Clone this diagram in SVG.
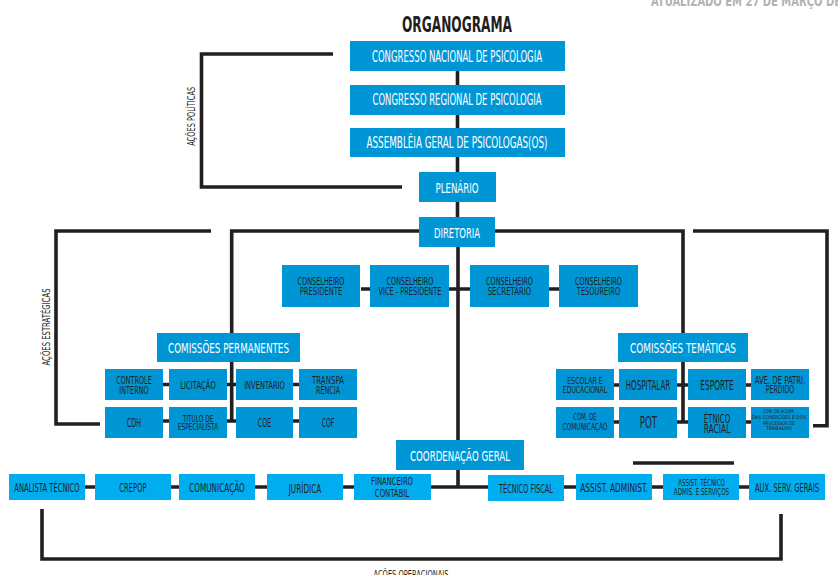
<svg xmlns="http://www.w3.org/2000/svg" width="838" height="575" viewBox="0 0 838 575">
<style>
text{font-family:"DejaVu Sans Condensed","Liberation Sans",sans-serif;text-anchor:middle}
.b{fill:#0096d6}
.bl{fill:#00adef}
.w{fill:#ffffff}
.d{fill:#231f20}
.ln{stroke:#231f20;stroke-width:3.6;fill:none}
.lbl{fill:#231f20;font-size:10.5px}
.tiny{font-size:5.2px}
</style>
<rect width="838" height="575" fill="#ffffff"/>
<text x="651" y="6" style="text-anchor:start;fill:#b3b3b3;font-weight:bold;font-size:14px" textLength="190" lengthAdjust="spacingAndGlyphs">ATUALIZADO EM 27 DE MARÇO DE</text>
<text x="457" y="32" class="d" style="font-weight:bold;font-size:22px" textLength="110" lengthAdjust="spacingAndGlyphs">ORGANOGRAMA</text>

<g id="connectors">
<path class="ln" d="M457.5 56 V231 M458 247 V441 M458 470 V487"/>
<path class="ln" d="M333 54 H201.5 V187 H402"/>
<path class="ln" d="M419 231 H231.7 V422 M495 231 H683 V422"/>
<path class="ln" d="M211 231 H56 V424 H100"/>
<path class="ln" d="M693 231 H827 V425.7 H813"/>
<path class="ln" d="M361 289 H370 M449 289 H470 M549 289 H559"/>
<path class="ln" d="M163 384.5 H169 M227 384.5 H236 M293 384.5 H299 M163 421 H169 M227 421 H236 M293 421 H299"/>
<path class="ln" d="M614 385 H619 M677 385 H688 M746 385 H751 M614 422 H619 M677 422 H688 M746 422 H751"/>
<path class="ln" d="M85 487 H95 M171 487 H179 M255 487 H267 M343 487 H354 M431 487 H488 M564 487 H576 M652 487 H663 M739 487 H749"/>
<path class="ln" d="M633 463 H734"/>
<path class="ln" d="M42 509 V559 H781 V514"/>
</g>

<text class="lbl" transform="translate(195,116.3) rotate(-90)" textLength="59" lengthAdjust="spacingAndGlyphs">AÇÕES POLÍTICAS</text>
<text class="lbl" transform="translate(50,327) rotate(-90)" textLength="77" lengthAdjust="spacingAndGlyphs">AÇÕES ESTRATÉGICAS</text>
<text class="lbl" x="411" y="578" style="font-size:11px" textLength="75" lengthAdjust="spacingAndGlyphs">AÇÕES OPERACIONAIS</text>

<g id="cnp"><rect class="b" x="350" y="41" width="215" height="30"/><text class="w" x="457" y="62" style="font-size:15.5px" textLength="170" lengthAdjust="spacingAndGlyphs">CONGRESSO NACIONAL DE PSICOLOGIA</text></g>
<g id="crp"><rect class="b" x="350" y="85" width="215" height="30"/><text class="w" x="457" y="104.5" style="font-size:15.5px" textLength="169" lengthAdjust="spacingAndGlyphs">CONGRESSO REGIONAL DE PSICOLOGIA</text></g>
<g id="assembleia"><rect class="b" x="350" y="128" width="215" height="29"/><text class="w" x="457" y="148" style="font-size:15.5px" textLength="181" lengthAdjust="spacingAndGlyphs">ASSEMBLÉIA GERAL DE PSICOLOGAS(OS)</text></g>
<g id="plenario"><rect class="b" x="419" y="172" width="77" height="30"/><text class="w" x="457" y="192.5" style="font-size:14.5px" textLength="43" lengthAdjust="spacingAndGlyphs">PLENÁRIO</text></g>
<g id="diretoria"><rect class="b" x="419" y="217" width="76" height="30"/><text class="w" x="457" y="237.7" style="font-size:14.5px" textLength="46" lengthAdjust="spacingAndGlyphs">DIRETORIA</text></g>

<g id="cons-presidente"><rect class="b" x="282" y="265" width="78" height="42"/><text class="d" x="321" y="285" style="font-size:10px" textLength="47" lengthAdjust="spacingAndGlyphs">CONSELHEIRO</text><text class="d" x="321" y="295.3" style="font-size:10px" textLength="42.7" lengthAdjust="spacingAndGlyphs">PRESIDENTE</text></g>
<g id="cons-vice"><rect class="b" x="370" y="265" width="79" height="42"/><text class="d" x="410" y="285" style="font-size:10px" textLength="47" lengthAdjust="spacingAndGlyphs">CONSELHEIRO</text><text class="d" x="410" y="295.3" style="font-size:10px" textLength="63" lengthAdjust="spacingAndGlyphs">VICE - PRESIDENTE</text></g>
<g id="cons-secretario"><rect class="b" x="470" y="265" width="79" height="42"/><text class="d" x="509.5" y="285" style="font-size:10px" textLength="47" lengthAdjust="spacingAndGlyphs">CONSELHEIRO</text><text class="d" x="509.5" y="295.3" style="font-size:10px" textLength="43.7" lengthAdjust="spacingAndGlyphs">SECRETÁRIO</text></g>
<g id="cons-tesoureiro"><rect class="b" x="559" y="265" width="79" height="42"/><text class="d" x="598.5" y="285" style="font-size:10px" textLength="47" lengthAdjust="spacingAndGlyphs">CONSELHEIRO</text><text class="d" x="598.5" y="295.3" style="font-size:10px" textLength="43.3" lengthAdjust="spacingAndGlyphs">TESOUREIRO</text></g>

<g id="com-permanentes"><rect class="b" x="157" y="333" width="143" height="29"/><text class="w" x="228.5" y="352.7" style="font-size:13.5px" textLength="121" lengthAdjust="spacingAndGlyphs">COMISSÕES PERMANENTES</text></g>
<g id="controle-interno"><rect class="b" x="105" y="369" width="58" height="31"/><text class="d" x="134" y="384" style="font-size:11px" textLength="35.6" lengthAdjust="spacingAndGlyphs">CONTROLE</text><text class="d" x="134" y="394" style="font-size:11px" textLength="29.3" lengthAdjust="spacingAndGlyphs">INTERNO</text></g>
<g id="licitacao"><rect class="b" x="169" y="369" width="58" height="31"/><text class="d" x="198" y="389" style="font-size:11px" textLength="35.7" lengthAdjust="spacingAndGlyphs">LICITAÇÃO</text></g>
<g id="inventario"><rect class="b" x="236" y="369" width="57" height="31"/><text class="d" x="264.5" y="389" style="font-size:11px" textLength="40.7" lengthAdjust="spacingAndGlyphs">INVENTÁRIO</text></g>
<g id="transparencia"><rect class="b" x="299" y="369" width="58" height="31"/><text class="d" x="328" y="384" style="font-size:11px" textLength="32" lengthAdjust="spacingAndGlyphs">TRANSPA</text><text class="d" x="328" y="394" style="font-size:11px" textLength="24" lengthAdjust="spacingAndGlyphs">RÊNCIA</text></g>
<g id="cdh"><rect class="b" x="105" y="407" width="58" height="31"/><text class="d" x="134" y="426.5" style="font-size:12.5px" textLength="14.3" lengthAdjust="spacingAndGlyphs">CDH</text></g>
<g id="titulo"><rect class="b" x="169" y="407" width="58" height="31"/><text class="d" x="198" y="421.7" style="font-size:8.5px" textLength="30.7" lengthAdjust="spacingAndGlyphs">TÍTULO DE</text><text class="d" x="198" y="430" style="font-size:8.5px" textLength="40.3" lengthAdjust="spacingAndGlyphs">ESPECIALISTA</text></g>
<g id="coe"><rect class="b" x="236" y="407" width="57" height="31"/><text class="d" x="264.5" y="426.5" style="font-size:12.5px" textLength="13.3" lengthAdjust="spacingAndGlyphs">COE</text></g>
<g id="cof"><rect class="b" x="299" y="407" width="58" height="31"/><text class="d" x="328" y="426.5" style="font-size:12.5px" textLength="12.7" lengthAdjust="spacingAndGlyphs">COF</text></g>

<g id="com-tematicas"><rect class="b" x="618" y="333" width="130" height="29"/><text class="w" x="683" y="352.7" style="font-size:13.5px" textLength="106" lengthAdjust="spacingAndGlyphs">COMISSÕES TEMÁTICAS</text></g>
<g id="escolar"><rect class="b" x="556" y="369" width="58" height="31"/><text class="d" x="585" y="383.5" style="font-size:9px" textLength="35.7" lengthAdjust="spacingAndGlyphs">ESCOLAR E</text><text class="d" x="585" y="393.3" style="font-size:9px" textLength="44.3" lengthAdjust="spacingAndGlyphs">EDUCACIONAL</text></g>
<g id="hospitalar"><rect class="b" x="619" y="369" width="58" height="31"/><text class="d" x="648" y="390" style="font-size:13.5px" textLength="44.7" lengthAdjust="spacingAndGlyphs">HOSPITALAR</text></g>
<g id="esporte"><rect class="b" x="688" y="369" width="58" height="31"/><text class="d" x="717" y="390" style="font-size:13.5px" textLength="33.3" lengthAdjust="spacingAndGlyphs">ESPORTE</text></g>
<g id="ave"><rect class="b" x="751" y="369" width="58" height="31"/><text class="d" x="780" y="384" style="font-size:11px" textLength="50.7" lengthAdjust="spacingAndGlyphs">AVE. DE PATRI.</text><text class="d" x="780" y="393.3" style="font-size:11px" textLength="28.3" lengthAdjust="spacingAndGlyphs">PERDIDO</text></g>
<g id="com-comunicacao"><rect class="b" x="556" y="407" width="58" height="31"/><text class="d" x="585" y="420" style="font-size:9px" textLength="23.3" lengthAdjust="spacingAndGlyphs">COM. DE</text><text class="d" x="585" y="430" style="font-size:9px" textLength="45" lengthAdjust="spacingAndGlyphs">COMUNICAÇÃO</text></g>
<g id="pot"><rect class="b" x="619" y="407" width="58" height="31"/><text class="d" x="648.5" y="428.3" style="font-size:16px" textLength="17.3" lengthAdjust="spacingAndGlyphs">POT</text></g>
<g id="etnico"><rect class="b" x="688" y="407" width="58" height="31"/><text class="d" x="717" y="423" style="font-size:11.5px" textLength="26.7" lengthAdjust="spacingAndGlyphs">ÉTNICO</text><text class="d" x="717" y="433.3" style="font-size:11.5px" textLength="26.7" lengthAdjust="spacingAndGlyphs">RACIAL</text></g>
<g id="com-acomp"><rect class="b" x="751" y="407" width="58" height="31"/><text class="d tiny" x="779" y="413.3" textLength="31.6" lengthAdjust="spacingAndGlyphs">COM. DE ACOMP.</text><text class="d tiny" x="779" y="419" textLength="54.7" lengthAdjust="spacingAndGlyphs">DAS CONDIÇÕES E DOS</text><text class="d tiny" x="779" y="424.7" textLength="31.7" lengthAdjust="spacingAndGlyphs">PROCESSOS DE</text><text class="d tiny" x="779" y="430.4" textLength="26" lengthAdjust="spacingAndGlyphs">TRABALHO</text></g>

<g id="coordenacao"><rect class="b" x="396" y="440" width="128" height="30"/><text class="w" x="460" y="460.7" style="font-size:14px" textLength="100" lengthAdjust="spacingAndGlyphs">COORDENAÇÃO GERAL</text></g>

<g id="analista"><rect class="bl" x="9" y="474" width="76" height="26"/><text class="d" x="47" y="491.7" style="font-size:11.5px" textLength="65.3" lengthAdjust="spacingAndGlyphs">ANALISTA TÉCNICO</text></g>
<g id="crepop"><rect class="bl" x="95" y="474" width="76" height="26"/><text class="d" x="133" y="491.7" style="font-size:11.5px" textLength="27.3" lengthAdjust="spacingAndGlyphs">CREPOP</text></g>
<g id="comunicacao"><rect class="bl" x="179" y="474" width="76" height="26"/><text class="d" x="217" y="491.7" style="font-size:11.5px" textLength="55.7" lengthAdjust="spacingAndGlyphs">COMUNICAÇÃO</text></g>
<g id="juridica"><rect class="bl" x="267" y="474" width="76" height="26"/><text class="d" x="305" y="492.7" style="font-size:11.5px" textLength="32.7" lengthAdjust="spacingAndGlyphs">JURÍDICA</text></g>
<g id="financeiro"><rect class="bl" x="354" y="474" width="77" height="26"/><text class="d" x="392" y="485" style="font-size:11px" textLength="42" lengthAdjust="spacingAndGlyphs">FINANCEIRO</text><text class="d" x="392" y="496.7" style="font-size:11px" textLength="34.3" lengthAdjust="spacingAndGlyphs">CONTÁBIL</text></g>
<g id="tecnico-fiscal"><rect class="bl" x="488" y="475" width="76" height="26"/><text class="d" x="526" y="492.7" style="font-size:11.5px" textLength="54" lengthAdjust="spacingAndGlyphs">TÉCNICO FISCAL</text></g>
<g id="assist-administ"><rect class="bl" x="576" y="474" width="76" height="26"/><text class="d" x="614" y="491.7" style="font-size:12.5px" textLength="67.7" lengthAdjust="spacingAndGlyphs">ASSIST. ADMINIST.</text></g>
<g id="assist-tecnico"><rect class="bl" x="663" y="474" width="76" height="26"/><text class="d" x="701.5" y="485.7" style="font-size:8.5px" textLength="46.7" lengthAdjust="spacingAndGlyphs">ASSIST. TÉCNICO</text><text class="d" x="701.5" y="495.3" style="font-size:8.5px" textLength="55.3" lengthAdjust="spacingAndGlyphs">ADMIS. E SERVIÇOS</text></g>
<g id="aux-serv"><rect class="bl" x="749" y="474" width="76" height="26"/><text class="d" x="787" y="491.7" style="font-size:11.5px" textLength="64" lengthAdjust="spacingAndGlyphs">AUX. SERV. GERAIS</text></g>
</svg>
